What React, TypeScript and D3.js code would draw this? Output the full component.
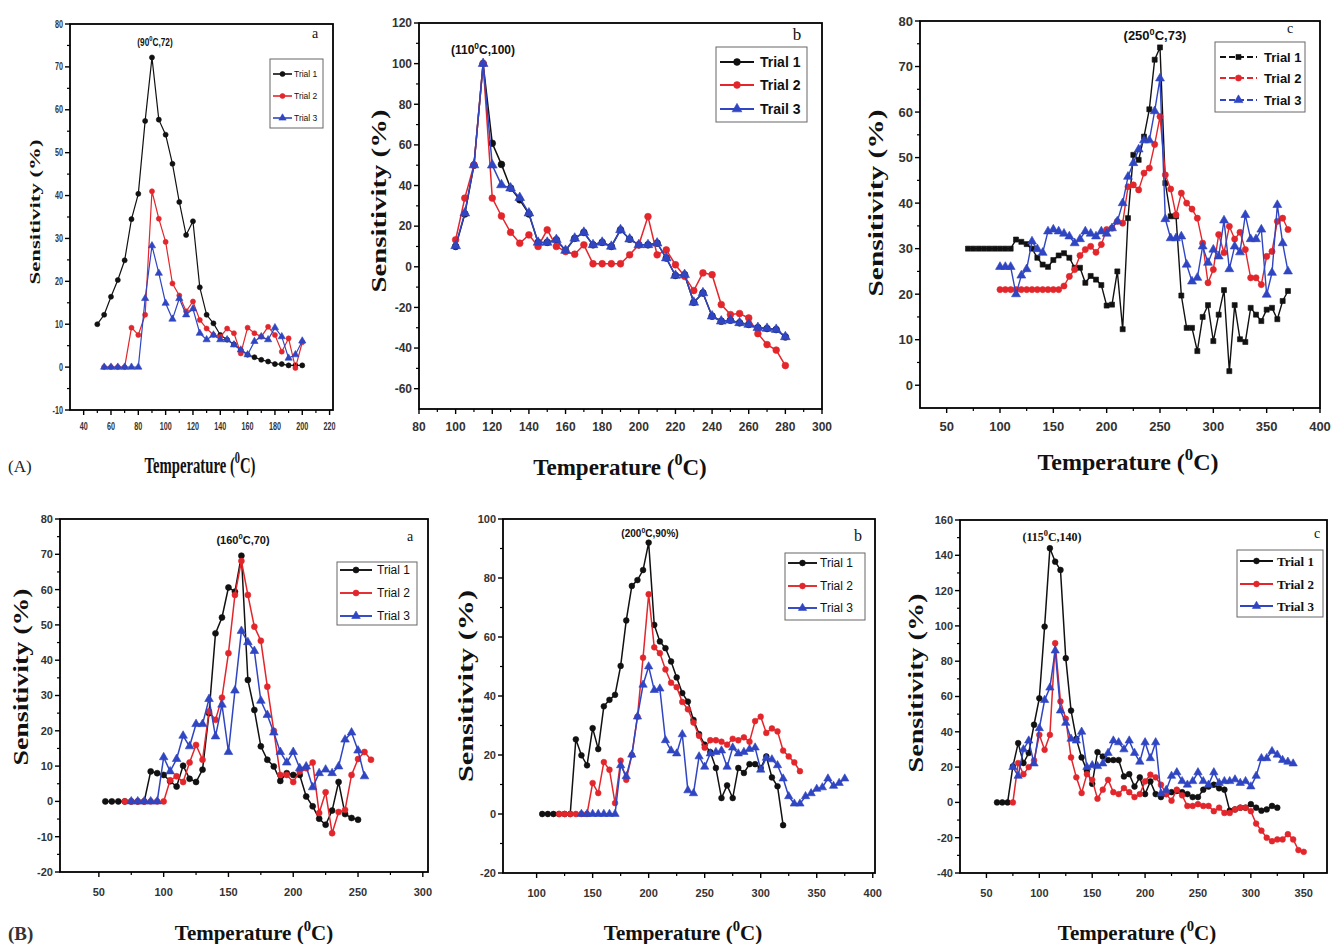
import React from "react";
import * as d3 from "d3";

// ---------------- DATA ----------------
// Panel A-a
const aaT1X = [50,55,60,65,70,75,80,85,90,95,100,105,110,115,120,125,130,135,140,145,150,155,160,165,170,175,180,185,190,195,200];
const aaT1Y = [10,12.2,16.4,20.3,24.9,34.5,40.4,57.4,72.2,57.7,54.2,47.4,38.5,30.8,34,18.6,12.2,10.2,7.5,6.4,5.3,4,2.9,2.3,1.7,1.3,0.7,0.7,0.4,0.4,0.4];
const aaT23X = [55,60,65,70,75,80,85,90,95,100,105,110,115,120,125,130,135,140,145,150,155,160,165,170,175,180,185,190,195,200];
const aaT2Y = [0,0,0,0,9.2,7.5,12.2,41,34.6,29.2,19.5,16.7,13,15.3,11,9,7.5,7.1,9,7.9,3.2,9.2,7.9,7.1,9.4,7.5,3.6,6.7,-0.2,5.8];
const aaT3Y = [0,0,0,0,0,0,16,28.3,21.9,14.9,11.2,16,12.2,13.6,7.9,6.4,7.5,6.4,6.4,5.2,4,2.9,6,7.1,6.4,9.2,7.1,2.1,2.9,6.1];
const aaXTicks = [40,60,80,100,120,140,160,180,200,220];
const aaYTicks = [-10,0,10,20,30,40,50,60,70,80];

// Panel A-b
const abX = [100,105,110,115,120,125,130,135,140,145,150,155,160,165,170,175,180,185,190,195,200,205,210,215,220,225,230,235,240,245,250,255,260,265,270,275,280];
const abT1Y = [10,26,50,100,60.8,50.4,38.7,33,26,12,12,13.3,8,14,16.9,10.8,12,10,18.2,13.6,10.8,10.8,11.6,4.3,-4.3,-3.9,-17.5,-12.9,-24.3,-26.8,-26.3,-27.6,-28.4,-30,-30.4,-30.9,-34.5];
const abT2Y = [13.3,33.8,50.1,100,33.8,25,17,11.6,15.7,10,18.2,10,7.5,6.2,10.8,1.5,1.5,1.5,1.5,5.9,10.8,24.7,5.9,8.3,1,-4.7,-11.7,-3,-3.9,-18.6,-23.5,-23,-25.2,-32.9,-38.3,-41,-48.6];
const abT3Y = [10.3,26.4,50.1,100,50,40.3,38.7,34,26.4,12,12,13.3,8,14,16.9,10.8,12,10,18.2,13.6,10.8,10.8,11.6,4.3,-4.3,-3.9,-17.5,-12.9,-24.3,-26.8,-26.3,-27.6,-28.4,-30,-30.4,-30.9,-34.5];
const abXTicks = [80,100,120,140,160,180,200,220,240,260,280,300];
const abYTicks = [-60,-40,-20,0,20,40,60,80,100,120];

// Panel A-c
const acT1X = [70,75,80,85,90,95,100,105,110,115,120,125,130,135,140,145,150,155,160,165,170,175,180,185,190,195,200,205,210,215,220,225,230,235,240,245,250,255,260,265,270,275,280,285,290,295,300,305,310,315,320,325,330,335,340,345,350,355,360,365,370];
const acT1Y = [30,30,30,30,30,30,30,30,30,32,31.5,31,30,28,26.5,26,27.5,28.5,29,28,25.8,25.8,22.5,24,23.2,22,17.5,17.7,25,12.3,36.7,50.6,49.5,54.6,60.6,71.5,74.2,44.4,37.1,37.1,19.7,12.6,12.6,7.5,15,17.6,9.7,15.5,20.9,3.1,17.6,10.1,9.5,17,15.5,14.1,16.6,17,14.5,18.5,20.7];
const acT23X = [100,105,110,115,120,125,130,135,140,145,150,155,160,165,170,175,180,185,190,195,200,205,210,215,220,225,230,235,240,245,250,255,260,265,270,275,280,285,290,295,300,305,310,315,320,325,330,335,340,345,350,355,360,365,370];
const acT2Y = [21,21,21,21,21,21,21,21,21,21,21,21,21.8,23.9,25.4,28.5,29.8,30.5,29.2,30.9,34.2,34.5,36,35.6,43.6,44,42.9,46.6,47.7,52.9,59,46.2,43.1,37.4,42.2,40,38.7,36.7,31.2,22.5,25.4,33.1,29.1,34.9,32.1,33.6,29.8,23.6,23.6,22.1,28.3,29.4,36,36.7,34.2];
const acT3Y = [26,26,26,20,24.1,25.5,31.6,29.9,29.1,33.8,34.2,33.8,33.3,32.7,31.2,32.1,33.8,33.3,32.7,33.8,33.3,34.5,36,40,45.8,48.8,51.8,53.8,53.8,60.2,67.4,36.5,32.3,32.3,32.7,26.5,22.8,23.6,30.5,26.9,29.8,28.3,36.2,25.5,30.5,29.2,37.4,32.1,32.1,34.2,19.9,24.7,39.6,31.2,25];
const acXTicks = [50,100,150,200,250,300,350,400];
const acYTicks = [0,10,20,30,40,50,60,70,80];

// Panel B-a
const baT1X = [55,60,65,70,75,80,85,90,95,100,105,110,115,120,125,130,135,140,145,150,155,160,165,170,175,180,185,190,195,200,205,210,215,220,225,230,235,240,245,250];
const baT1Y = [0,0,0,0,0,0,0,8.5,8,7.5,5.7,4.2,10.1,6.4,5.5,9,25,47.6,52.1,60.6,59.4,69.6,34.4,25.9,15.6,11.8,9.9,5.8,8,7.5,7.5,1.4,-1.4,-4.9,-6.6,-2.6,5.5,-3.6,-4.7,-5.2];
const baT2X = [70,75,80,85,90,95,100,105,110,115,120,125,130,135,140,145,150,155,160,165,170,175,180,185,190,195,200,205,210,215,220,225,230,235,240,245,250,255,260];
const baT2Y = [0,0,0,0,0,0,0,6,7.1,5.5,11,16,11.8,25.5,23.1,29.4,42,58.5,68.1,58.5,49.5,45.5,32.5,20,7.5,7.5,5.5,8.5,9.4,11,-3.3,2.6,-9,-3,-2.4,7.5,12,14,11.8];
const baT3X = [75,80,85,90,95,100,105,110,115,120,125,130,135,140,145,150,155,160,165,170,175,180,185,190,195,200,205,210,215,220,225,230,235,240,245,250,255];
const baT3Y = [0,0,0,0,0,12.5,8.5,12,18.6,15.6,21.9,21.9,29,18.4,27.4,14,31.4,48.3,45.1,42.6,28.5,24.5,19.5,14,11,14,9.4,9.9,4,8,9,8,9.9,17.5,19.5,14.4,7.1];
const baXTicks = [50,100,150,200,250,300];
const baYTicks = [-20,-10,0,10,20,30,40,50,60,70,80];

// Panel B-b
const bbT1X = [105,110,115,120,125,130,135,140,145,150,155,160,165,170,175,180,185,190,195,200,205,210,215,220,225,230,235,240,245,250,255,260,265,270,275,280,285,290,295,300,305,310,315,320];
const bbT1Y = [0,0,0,0,0,0,25.3,19.9,16.5,29.1,22,36.5,38.7,40.4,50.2,65.6,77.3,79.3,82.7,92,64.1,58.5,56.2,51.7,46.3,41,38.1,31.9,27.1,23.5,21,15.6,5.4,9.7,5.4,15.6,13.9,16.9,16.9,15.6,19.5,12.4,9.4,-3.8];
const bbT2X = [120,125,130,135,140,145,150,155,160,165,170,175,180,185,190,195,200,205,210,215,220,225,230,235,240,245,250,255,260,265,270,275,280,285,290,295,300,305,310,315,320,325,330,335];
const bbT2Y = [0,0,0,0,0,0,10.5,7.1,17.6,15,3.7,18.1,11.6,20,33,53,74.5,56.5,54.5,49,44.5,43,38,35.5,31,26.5,22.5,25,25,24.5,23.5,25.5,25,26,24.5,31.5,33,27.5,29,28,21.5,19.5,17.5,14.5];
const bbT3X = [140,145,150,155,160,165,170,175,180,185,190,195,200,205,210,215,220,225,230,235,240,245,250,255,260,265,270,275,280,285,290,295,300,305,310,315,320,325,330,335,340,345,350,355,360,365,370,375];
const bbT3Y = [0,0,0,0,0,0,0,16.5,12.8,20.1,33,43.8,50,42,42.5,25,21.5,20.5,27,8,7,19.5,16,20.5,21,21.5,16,22.5,20.5,21,22,22.5,15,19,18.5,16.5,12,6,3.5,3.5,6,7,8.5,9,12,9.5,10.5,12];
const bbXTicks = [100,150,200,250,300,350,400];
const bbYTicks = [-20,0,20,40,60,80,100];

// Panel B-c
const bcT1X = [60,65,70,75,80,85,90,95,100,105,110,115,120,125,130,135,140,145,150,155,160,165,170,175,180,185,190,195,200,205,210,215,220,225,230,235,240,245,250,255,260,265,270,275,280,285,290,295,300,305,310,315,320,325];
const bcT1Y = [0,0,0,20.4,33.6,22.3,28,44,59,99.6,144,136.4,131.7,81.7,52,36,25.5,18,10.5,28.5,26,24,24,24,14.7,16,9,14.2,4.7,11.9,4.7,3,4.7,5.8,6.5,5.8,4.7,3,3,7.2,9,10,8,7.2,-4.7,-4,-3,-3,-1,-3,-4.7,-4,-2,-3];
const bcT2X = [75,80,85,90,95,100,105,110,115,120,125,130,135,140,145,150,155,160,165,170,175,180,185,190,195,200,205,210,215,220,225,230,235,240,245,250,255,260,265,270,275,280,285,290,295,300,305,310,315,320,325,330,335,340,345,350];
const bcT2Y = [0,22.3,16,20,23.8,38.3,29.8,38.3,90.2,57.2,47.4,25.5,14.2,5.3,16,12.8,2.1,7.2,12.8,5.8,4.7,8.1,5.8,3,4.7,11.9,15.7,14.2,10,4.7,1,7.2,4,-2,-2,-1,-2,-2,-5,-3,-6,-6,-4,-3,-3,-5,-12,-16,-20,-22,-21,-21,-18,-21,-27,-28];
const bcT3X = [75,80,85,90,95,100,105,110,115,120,125,130,135,140,145,150,155,160,165,170,175,180,185,190,195,200,205,210,215,220,225,230,235,240,245,250,255,260,265,270,275,280,285,290,295,300,305,310,315,320,325,330,335,340];
const bcT3Y = [20,15,30,35,22,42,58,65,86,52,45,36,35,40,20,21,20.5,22,28,35,34,30,35,28,23,34,25,34,5,7,15,17,12,10,12,17,12,10,17,11,12,12,13,11,12,9,15,25,25,29,27,24,23,22];
const bcXTicks = [50,100,150,200,250,300,350];
const bcYTicks = [-40,-20,0,20,40,60,80,100,120,140,160];

const trialNames = ["Trial 1", "Trial 2", "Trial 3"];
const trialNamesB = ["Trial 1", "Trial 2", "Trail 3"];

// ---------------- STYLE ----------------
const BLACK = "#111111";
const RED = "#e3262b";
const BLUE = "#2f45c2";

type Shape = "circle" | "square" | "triangle";
type Series = { x: number[]; y: number[]; color: string; shape: Shape };
type Cfg = {
  l: number; r: number; t: number; b: number;
  xDomain: [number, number]; yDomain: [number, number];
  xTicks: number[]; yTicks: number[];
  tickSize: number; tickFamily: string; tickScale: number; tickGap: number;
  series: Series[]; markerSize: number; lineWidth: number;
  yLabel: { x: number; y: number; size: number; len: number };
  xLabel: { x: number; y: number; size: number; sx: number };
  note: { text: string; x: number; y: number; size: number; family: string; sx: number };
  letter: { text: string; x: number; y: number; size: number };
  legend: {
    x0: number; y0: number; x1: number; y1: number; rows: number[];
    lx0: number; lx1: number; tx: number; size: number; family: string; weight: string;
    names: string[]; dashed?: boolean;
  };
};

const shapeMap: Record<Shape, d3.SymbolType> = {
  circle: d3.symbolCircle,
  square: d3.symbolSquare,
  triangle: d3.symbolTriangle,
};

function sup(text: string, size: number) {
  const i = text.indexOf("^");
  if (i < 0) return text;
  return [
    <tspan key="a">{text.slice(0, i)}</tspan>,
    <tspan key="b" dy={-size * 0.42} fontSize={size * 0.7}>{text[i + 1]}</tspan>,
    <tspan key="c" dy={size * 0.42}>{text.slice(i + 2)}</tspan>,
  ];
}

function Marker({ cx, cy, shape, size, color }: { cx: number; cy: number; shape: Shape; size: number; color: string }) {
  const s = shape === "triangle" ? size * 1.15 : shape === "square" ? size * 0.85 : size;
  const d = d3.symbol().type(shapeMap[shape]).size(s)() as string;
  return <path d={d} transform={`translate(${cx},${cy})`} fill={color} stroke={color} strokeWidth={0.6} />;
}

function Panel({ cfg }: { cfg: Cfg }) {
  const x = d3.scaleLinear().domain(cfg.xDomain).range([cfg.l, cfg.r]);
  const y = d3.scaleLinear().domain(cfg.yDomain).range([cfg.b, cfg.t]);
  const line = d3.line<[number, number]>().x((d) => x(d[0])).y((d) => y(d[1]));
  const xMinor = d3.pairs(cfg.xTicks).map(([a, b]) => (a + b) / 2);
  const yMinor = d3.pairs(cfg.yTicks).map(([a, b]) => (a + b) / 2);
  const lg = cfg.legend;
  const ts = cfg.tickScale;
  return (
    <g>
      {cfg.xTicks.map((v) => (
        <g key={"xt" + v}>
          <line x1={x(v)} x2={x(v)} y1={cfg.b} y2={cfg.b + 5} stroke="#000" strokeWidth={1.4} />
          <text transform={`translate(${x(v)},${cfg.b + cfg.tickGap + cfg.tickSize}) scale(${ts},1)`} textAnchor="middle"
            fontSize={cfg.tickSize} fontFamily={cfg.tickFamily} fontWeight="bold" fill="#333">{v}</text>
        </g>
      ))}
      {xMinor.map((v) => (
        <line key={"xm" + v} x1={x(v)} x2={x(v)} y1={cfg.b} y2={cfg.b + 3} stroke="#000" strokeWidth={1.2} />
      ))}
      {cfg.yTicks.map((v) => (
        <g key={"yt" + v}>
          <line x1={cfg.l - 5} x2={cfg.l} y1={y(v)} y2={y(v)} stroke="#000" strokeWidth={1.4} />
          <text transform={`translate(${cfg.l - 7},${y(v) + cfg.tickSize * 0.36}) scale(${ts},1)`} textAnchor="end"
            fontSize={cfg.tickSize} fontFamily={cfg.tickFamily} fontWeight="bold" fill="#333">{v}</text>
        </g>
      ))}
      {yMinor.map((v) => (
        <line key={"ym" + v} x1={cfg.l - 3} x2={cfg.l} y1={y(v)} y2={y(v)} stroke="#000" strokeWidth={1.2} />
      ))}
      {cfg.series.map((s, i) => {
        const pts = s.x.map((xv, j) => [xv, s.y[j]] as [number, number]);
        return (
          <g key={"s" + i}>
            <path d={line(pts) as string} fill="none" stroke={s.color} strokeWidth={cfg.lineWidth} />
            {pts.map((p, j) => (
              <Marker key={j} cx={x(p[0])} cy={y(p[1])} shape={s.shape} size={cfg.markerSize} color={s.color} />
            ))}
          </g>
        );
      })}
      <rect x={cfg.l} y={cfg.t} width={cfg.r - cfg.l} height={cfg.b - cfg.t} fill="none" stroke="#000" strokeWidth={1.8} />
      <rect x={lg.x0} y={lg.y0} width={lg.x1 - lg.x0} height={lg.y1 - lg.y0} fill="#fff" stroke="#666" strokeWidth={1} />
      {cfg.series.map((s, i) => (
        <g key={"lg" + i}>
          <line x1={lg.lx0} x2={lg.lx1} y1={lg.rows[i]} y2={lg.rows[i]} stroke={s.color} strokeWidth={cfg.lineWidth + 0.4}
            strokeDasharray={lg.dashed ? "6,3" : undefined} />
          <Marker cx={(lg.lx0 + lg.lx1) / 2} cy={lg.rows[i]} shape={s.shape} size={cfg.markerSize} color={s.color} />
          <text x={lg.tx} y={lg.rows[i] + lg.size * 0.36} fontSize={lg.size} fontFamily={lg.family} fontWeight={lg.weight} fill="#111">
            {lg.names[i]}
          </text>
        </g>
      ))}
      <text transform={`translate(${cfg.yLabel.x},${cfg.yLabel.y}) rotate(-90)`} textAnchor="middle"
        fontFamily={SERIF} fontWeight="bold" fontSize={cfg.yLabel.size}
        textLength={cfg.yLabel.len} lengthAdjust="spacingAndGlyphs" fill="#111">Sensitivity (%)</text>
      <text transform={`translate(${cfg.xLabel.x},${cfg.xLabel.y}) scale(${cfg.xLabel.sx},1)`} textAnchor="middle"
        fontFamily={SERIF} fontWeight="bold" fontSize={cfg.xLabel.size} fill="#111">
        {sup("Temperature (^0C)", cfg.xLabel.size)}
      </text>
      <text transform={`translate(${cfg.note.x},${cfg.note.y}) scale(${cfg.note.sx},1)`} textAnchor="middle"
        fontFamily={cfg.note.family} fontWeight="bold" fontSize={cfg.note.size} fill="#111">{sup(cfg.note.text, cfg.note.size)}</text>
      <text x={cfg.letter.x} y={cfg.letter.y} textAnchor="middle" fontFamily={SERIF}
        fontSize={cfg.letter.size} fill="#111">{cfg.letter.text}</text>
    </g>
  );
}

const SANS = "'Liberation Sans', Arial, sans-serif";
const SERIF = "'Liberation Serif', 'Times New Roman', serif";

const panels: Cfg[] = [
  {
    l: 70, r: 333, t: 24, b: 410, xDomain: [30, 222.5], yDomain: [-10, 80],
    xTicks: aaXTicks, yTicks: aaYTicks, tickSize: 10, tickFamily: SANS, tickScale: 0.72, tickGap: 10,
    series: [
      { x: aaT1X, y: aaT1Y, color: BLACK, shape: "circle" },
      { x: aaT23X, y: aaT2Y, color: RED, shape: "circle" },
      { x: aaT23X, y: aaT3Y, color: BLUE, shape: "triangle" },
    ],
    markerSize: 20, lineWidth: 1.2,
    yLabel: { x: 40, y: 212, size: 14, len: 145 },
    xLabel: { x: 200, y: 473, size: 23, sx: 0.64 },
    note: { text: "(90^0C,72)", x: 155, y: 46, size: 11, family: SANS, sx: 0.75 },
    letter: { text: "a", x: 315, y: 38, size: 14 },
    legend: { x0: 270, y0: 59, x1: 323, y1: 128, rows: [74, 96, 118], lx0: 273, lx1: 292, tx: 294, size: 8.5,
      family: SANS, weight: "normal", names: trialNames },
  },
  {
    l: 419, r: 822, t: 23, b: 409, xDomain: [80, 300], yDomain: [-70, 120],
    xTicks: abXTicks, yTicks: abYTicks, tickSize: 12, tickFamily: SANS, tickScale: 1, tickGap: 10,
    series: [
      { x: abX, y: abT1Y, color: BLACK, shape: "circle" },
      { x: abX, y: abT2Y, color: RED, shape: "circle" },
      { x: abX, y: abT3Y, color: BLUE, shape: "triangle" },
    ],
    markerSize: 36, lineWidth: 1.5,
    yLabel: { x: 386, y: 201, size: 22, len: 183 },
    xLabel: { x: 620, y: 475, size: 23, sx: 1 },
    note: { text: "(110^0C,100)", x: 483, y: 54, size: 12, family: SANS, sx: 1 },
    letter: { text: "b", x: 797, y: 40, size: 17 },
    legend: { x0: 716, y0: 47, x1: 807, y1: 122, rows: [62, 85, 109], lx0: 720, lx1: 754, tx: 760, size: 14,
      family: SANS, weight: "bold", names: trialNamesB },
  },
  {
    l: 920, r: 1320, t: 21, b: 408, xDomain: [25, 400], yDomain: [-5, 80],
    xTicks: acXTicks, yTicks: acYTicks, tickSize: 13, tickFamily: SANS, tickScale: 1, tickGap: 10,
    series: [
      { x: acT1X, y: acT1Y, color: BLACK, shape: "square" },
      { x: acT23X, y: acT2Y, color: RED, shape: "circle" },
      { x: acT23X, y: acT3Y, color: BLUE, shape: "triangle" },
    ],
    markerSize: 30, lineWidth: 1.4,
    yLabel: { x: 883, y: 203, size: 22, len: 187 },
    xLabel: { x: 1128, y: 470, size: 24, sx: 1 },
    note: { text: "(250^0C,73)", x: 1155, y: 40, size: 13, family: SANS, sx: 1 },
    letter: { text: "c", x: 1290, y: 33, size: 14 },
    legend: { x0: 1215, y0: 42, x1: 1305, y1: 112, rows: [57, 78, 100], lx0: 1220, lx1: 1257, tx: 1264, size: 13,
      family: SANS, weight: "bold", names: trialNames, dashed: true },
  },
  {
    l: 60, r: 428, t: 519, b: 872, xDomain: [20, 304], yDomain: [-20, 80],
    xTicks: baXTicks, yTicks: baYTicks, tickSize: 11, tickFamily: SANS, tickScale: 1, tickGap: 13,
    series: [
      { x: baT1X, y: baT1Y, color: BLACK, shape: "circle" },
      { x: baT2X, y: baT2Y, color: RED, shape: "circle" },
      { x: baT3X, y: baT3Y, color: BLUE, shape: "triangle" },
    ],
    markerSize: 28, lineWidth: 1.5,
    yLabel: { x: 28, y: 677, size: 22, len: 177 },
    xLabel: { x: 254, y: 940, size: 21, sx: 1 },
    note: { text: "(160^0C,70)", x: 243, y: 544, size: 11, family: SANS, sx: 1 },
    letter: { text: "a", x: 410, y: 541, size: 14 },
    legend: { x0: 337, y0: 562, x1: 417, y1: 625, rows: [570, 593, 616], lx0: 340, lx1: 372, tx: 377, size: 12,
      family: SANS, weight: "normal", names: trialNames },
  },
  {
    l: 503, r: 875, t: 519, b: 873, xDomain: [70, 402], yDomain: [-20, 100],
    xTicks: bbXTicks, yTicks: bbYTicks, tickSize: 11, tickFamily: SANS, tickScale: 1, tickGap: 13,
    series: [
      { x: bbT1X, y: bbT1Y, color: BLACK, shape: "circle" },
      { x: bbT2X, y: bbT2Y, color: RED, shape: "circle" },
      { x: bbT3X, y: bbT3Y, color: BLUE, shape: "triangle" },
    ],
    markerSize: 26, lineWidth: 1.5,
    yLabel: { x: 473, y: 686, size: 22, len: 192 },
    xLabel: { x: 683, y: 940, size: 21, sx: 1 },
    note: { text: "(200^0C,90%)", x: 650, y: 537, size: 10, family: SANS, sx: 1 },
    letter: { text: "b", x: 858, y: 541, size: 16 },
    legend: { x0: 785, y0: 553, x1: 865, y1: 620, rows: [563, 586, 608], lx0: 788, lx1: 817, tx: 820, size: 12,
      family: SANS, weight: "normal", names: trialNames },
  },
  {
    l: 960, r: 1327, t: 520, b: 873, xDomain: [25, 372], yDomain: [-40, 160],
    xTicks: bcXTicks, yTicks: bcYTicks, tickSize: 11, tickFamily: SANS, tickScale: 1, tickGap: 13,
    series: [
      { x: bcT1X, y: bcT1Y, color: BLACK, shape: "circle" },
      { x: bcT2X, y: bcT2Y, color: RED, shape: "circle" },
      { x: bcT3X, y: bcT3Y, color: BLUE, shape: "triangle" },
    ],
    markerSize: 26, lineWidth: 1.5,
    yLabel: { x: 923, y: 683, size: 22, len: 179 },
    xLabel: { x: 1137, y: 940, size: 21, sx: 1 },
    note: { text: "(115^0C,140)", x: 1052, y: 541, size: 12, family: SERIF, sx: 1 },
    letter: { text: "c", x: 1317, y: 538, size: 14 },
    legend: { x0: 1237, y0: 550, x1: 1323, y1: 617, rows: [561, 584, 606], lx0: 1240, lx1: 1273, tx: 1277, size: 13,
      family: SERIF, weight: "bold", names: trialNames },
  },
];

export default function App() {
  return (
    <div style={{ position: "absolute", left: 0, top: 0, background: "#fff" }}>
      <svg width={1333} height={944} viewBox="0 0 1333 944" style={{ display: "block" }}>
        <rect x={0} y={0} width={1333} height={944} fill="#fff" />
        {panels.map((c, i) => <Panel key={i} cfg={c} />)}
        <text x={8} y={472} fontFamily={SERIF} fontSize={17} fill="#222">(A)</text>
        <text x={8} y={940} fontFamily={SERIF} fontSize={19} fontWeight="bold" fill="#333">(B)</text>
      </svg>
    </div>
  );
}
